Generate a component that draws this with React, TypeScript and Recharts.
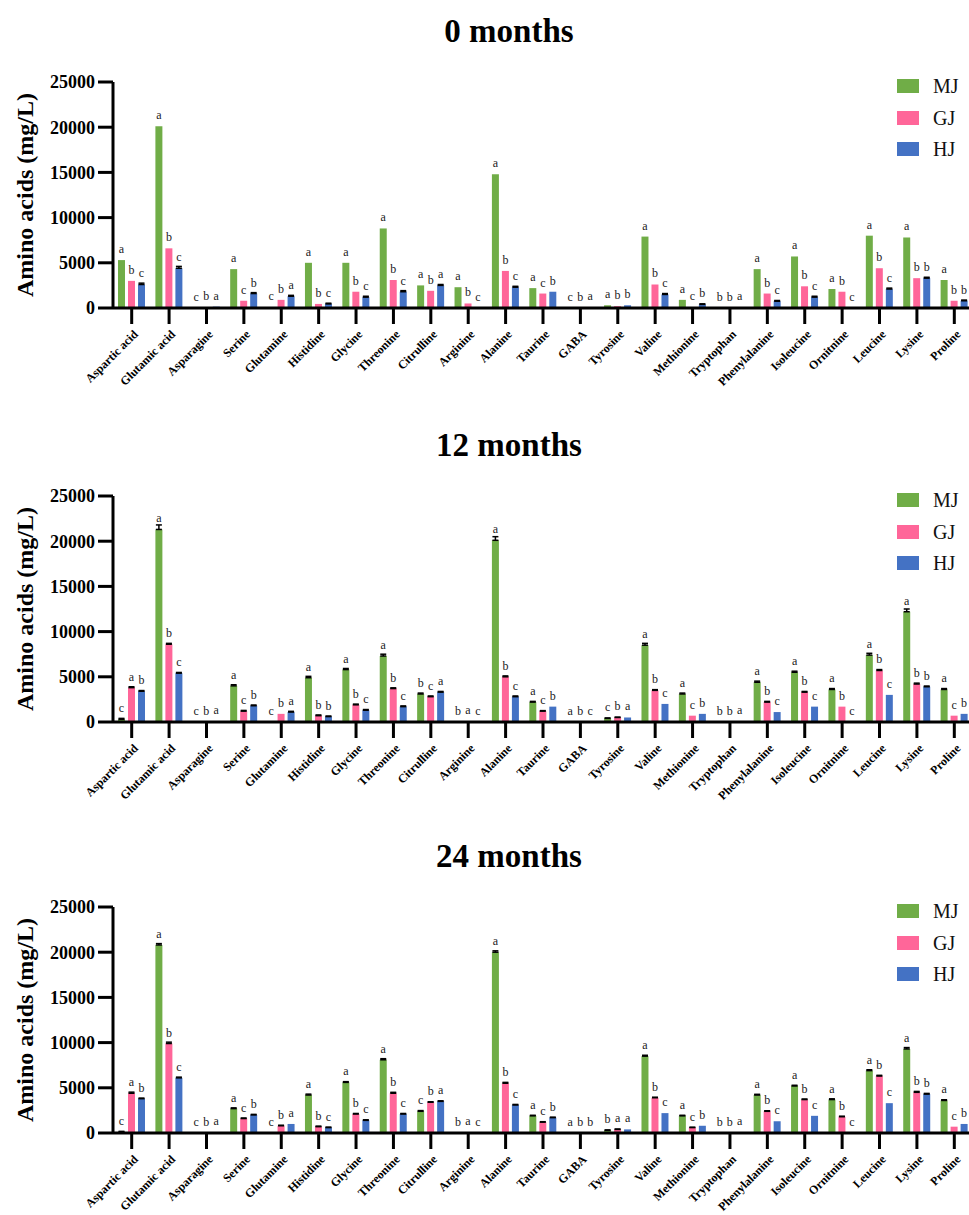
import React from "react";
import { BarChart, Bar, XAxis, YAxis, ErrorBar, LabelList } from "recharts";

const categories = [
  "Aspartic acid", "Glutamic acid", "Asparagine", "Serine", "Glutamine",
  "Histidine", "Glycine", "Threonine", "Citrulline", "Arginine", "Alanine",
  "Taurine", "GABA", "Tyrosine", "Valine", "Methionine", "Tryptophan",
  "Phenylalanine", "Isoleucine", "Ornitnine", "Leucine", "Lysine", "Proline",
];
const groups = ["MJ", "GJ", "HJ"];
const colors = ["#70AD47", "#FF6699", "#4472C4"];
const yTicks = [0, 5000, 10000, 15000, 20000, 25000];

// 0 months
const mj0 = [5300, 20100, 40, 4300, 100, 5000, 5000, 8800, 2500, 2300, 14800, 2200, 30, 300, 7900, 900, 30, 4300, 5700, 2100, 8000, 7800, 3100];
const gj0 = [3000, 6600, 60, 800, 900, 450, 1800, 3100, 1900, 500, 4100, 1600, 50, 200, 2600, 60, 30, 1600, 2400, 1800, 4400, 3300, 800];
const hj0 = [2600, 4400, 150, 1600, 1300, 450, 1200, 1800, 2500, 30, 2300, 1800, 70, 300, 1500, 400, 60, 750, 1200, 30, 2100, 3300, 800];
const mj0Err = [0, 0, 0, 0, 0, 0, 0, 0, 0, 0, 0, 0, 0, 0, 0, 0, 0, 0, 0, 0, 0, 0, 0];
const gj0Err = [0, 0, 0, 0, 0, 0, 0, 0, 0, 0, 0, 0, 0, 0, 0, 0, 0, 0, 0, 0, 0, 0, 0];
const hj0Err = [150, 200, 0, 100, 100, 80, 100, 120, 100, 0, 100, 0, 0, 0, 100, 60, 0, 80, 100, 0, 100, 100, 80];
const mj0Sig = ["a", "a", "c", "a", "c", "a", "a", "a", "a", "a", "a", "a", "c", "a", "a", "a", "b", "a", "a", "a", "a", "a", "a"];
const gj0Sig = ["b", "b", "b", "c", "b", "b", "b", "b", "b", "b", "b", "c", "b", "b", "b", "c", "b", "b", "b", "b", "b", "b", "b"];
const hj0Sig = ["c", "c", "a", "b", "a", "c", "c", "c", "a", "c", "c", "b", "a", "b", "c", "b", "a", "c", "c", "c", "c", "b", "b"];

// 12 months
const mj12 = [300, 21300, 30, 4000, 30, 4900, 5800, 7300, 3100, 40, 20100, 2200, 50, 400, 8500, 3100, 30, 4400, 5500, 3600, 7400, 12200, 3600];
const gj12 = [3800, 8600, 40, 1200, 900, 700, 1900, 3700, 2800, 60, 5000, 1200, 40, 500, 3500, 700, 30, 2200, 3300, 1700, 5700, 4200, 700];
const hj12 = [3400, 5400, 60, 1800, 1100, 600, 1300, 1700, 3300, 10, 2800, 1700, 20, 500, 2000, 900, 80, 1100, 1700, 20, 3000, 3900, 900];
const mj12Err = [100, 500, 0, 120, 0, 150, 120, 200, 100, 0, 400, 80, 0, 50, 200, 100, 0, 120, 120, 100, 200, 300, 100];
const gj12Err = [100, 100, 0, 80, 0, 80, 80, 80, 80, 0, 100, 60, 0, 40, 80, 0, 0, 80, 80, 0, 100, 100, 0];
const hj12Err = [80, 80, 0, 80, 80, 60, 80, 80, 80, 0, 80, 0, 0, 0, 0, 0, 0, 0, 0, 0, 0, 80, 0];
const mj12Sig = ["c", "a", "c", "a", "c", "a", "a", "a", "b", "b", "a", "a", "a", "c", "a", "a", "b", "a", "a", "a", "a", "a", "a"];
const gj12Sig = ["a", "b", "b", "c", "b", "b", "b", "b", "c", "a", "b", "c", "b", "b", "b", "c", "b", "b", "b", "b", "b", "b", "c"];
const hj12Sig = ["b", "c", "a", "b", "a", "b", "c", "c", "a", "c", "c", "b", "c", "a", "c", "b", "a", "c", "c", "c", "c", "b", "b"];

// 24 months
const mj24 = [100, 20800, 30, 2700, 30, 4200, 5600, 8100, 2400, 40, 20000, 1900, 50, 300, 8500, 1900, 30, 4200, 5200, 3700, 6900, 9300, 3600];
const gj24 = [4400, 9900, 40, 1600, 800, 700, 2100, 4400, 3400, 60, 5500, 1200, 30, 400, 3900, 600, 30, 2400, 3700, 1800, 6300, 4500, 700];
const hj24 = [3800, 6100, 60, 2000, 1000, 600, 1400, 2100, 3500, 10, 3100, 1700, 30, 400, 2200, 800, 80, 1300, 1900, 20, 3300, 4300, 1000];
const mj24Err = [80, 150, 0, 80, 0, 100, 80, 120, 80, 0, 150, 60, 0, 40, 100, 60, 0, 80, 80, 80, 100, 150, 80];
const gj24Err = [120, 150, 0, 60, 60, 60, 60, 100, 60, 0, 100, 50, 0, 40, 60, 40, 0, 60, 60, 60, 80, 100, 0];
const hj24Err = [60, 80, 0, 60, 0, 50, 60, 60, 60, 0, 60, 50, 0, 0, 0, 0, 0, 0, 0, 0, 0, 80, 0];
const mj24Sig = ["c", "a", "c", "a", "c", "a", "a", "a", "c", "b", "a", "a", "a", "b", "a", "a", "b", "a", "a", "a", "a", "a", "a"];
const gj24Sig = ["a", "b", "b", "c", "b", "b", "b", "b", "b", "a", "b", "c", "b", "a", "b", "c", "b", "b", "b", "b", "b", "b", "c"];
const hj24Sig = ["b", "c", "a", "b", "a", "c", "c", "c", "a", "c", "c", "b", "b", "a", "c", "b", "a", "c", "c", "c", "c", "b", "b"];

const serif = "Liberation Serif, DejaVu Serif, Noto Serif, Times New Roman, Times, serif";

const panels = [
  { title: "0 months", top: 0, vals: [mj0, gj0, hj0], errs: [mj0Err, gj0Err, hj0Err], sigs: [mj0Sig, gj0Sig, hj0Sig] },
  { title: "12 months", top: 414, vals: [mj12, gj12, hj12], errs: [mj12Err, gj12Err, hj12Err], sigs: [mj12Sig, gj12Sig, hj12Sig] },
  { title: "24 months", top: 825, vals: [mj24, gj24, hj24], errs: [mj24Err, gj24Err, hj24Err], sigs: [mj24Sig, gj24Sig, hj24Sig] },
];

const XTick = (props: any) => {
  const { x, y, payload } = props;
  const tx = x + 7;
  const ty = y + 9;
  return (
    <text
      x={tx}
      y={ty}
      transform={`rotate(-45 ${tx} ${ty})`}
      textAnchor="end"
      style={{ fontFamily: serif, fontSize: 12, fontWeight: "bold" }}
      fill="#000"
    >
      {payload.value}
    </text>
  );
};

const sigLabel = (props: any) => {
  const { x, y, width, value } = props;
  return (
    <text
      x={x + width / 2}
      y={y - 7}
      textAnchor="middle"
      style={{ fontFamily: serif, fontSize: 12 }}
      fill="#222"
    >
      {value}
    </text>
  );
};

function Panel({ p }: { p: (typeof panels)[number] }) {
  const rows = categories.map((name, i) => {
    const row: any = { name };
    groups.forEach((_, k) => {
      row[`v${k}`] = p.vals[k][i];
      row[`e${k}`] = p.errs[k][i] > 0 ? [0, p.errs[k][i]] : null;
      row[`s${k}`] = p.sigs[k][i];
    });
    return row;
  });

  return (
    <div style={{ position: "absolute", left: 0, top: p.top, width: 985, height: 412, fontFamily: serif }}>
      <div
        style={{
          position: "absolute", left: 309, top: 12, width: 400, height: 38,
          lineHeight: "38px", textAlign: "center", fontSize: 33, fontWeight: "bold", zIndex: 2,
        }}
      >
        {p.title}
      </div>
      <div
        style={{
          position: "absolute", left: 25, top: 195, transform: "translate(-50%, -50%) rotate(-90deg)",
          whiteSpace: "nowrap", fontSize: 24, fontWeight: "bold", zIndex: 2,
        }}
      >
        Amino acids (mg/L)
      </div>
      {groups.map((g, k) => (
        <div key={g} style={{ position: "absolute", left: 897, top: 79 + k * 31.5, zIndex: 2, height: 14 }}>
          <div style={{ position: "absolute", left: 0, top: 0, width: 22, height: 14, background: colors[k] }} />
          <div
            style={{
              position: "absolute", left: 36, top: -6, lineHeight: "26px", fontSize: 20,
              whiteSpace: "nowrap", color: "#111",
            }}
          >
            {g}
          </div>
        </div>
      ))}
      <BarChart
        width={985}
        height={412}
        data={rows}
        margin={{ top: 82, right: 12, left: 0, bottom: 0 }}
        barGap={3}
        style={{ fontFamily: serif }}
      >
        <XAxis
          dataKey="name"
          interval={0}
          height={104}
          tickSize={16}
          tick={<XTick />}
          axisLine={{ stroke: "#000", strokeWidth: 3 }}
          tickLine={{ stroke: "#000", strokeWidth: 3 }}
        />
        <YAxis
          domain={[0, 25000]}
          ticks={yTicks}
          interval={0}
          width={113}
          tickSize={15}
          tickMargin={3}
          tick={{ fontSize: 18, fontWeight: "bold", fill: "#000", style: { fontFamily: serif } }}
          axisLine={{ stroke: "#000", strokeWidth: 3 }}
          tickLine={{ stroke: "#000", strokeWidth: 3 }}
        />
        {groups.map((g, k) => (
          <Bar key={g} dataKey={`v${k}`} name={g} fill={colors[k]} barSize={7} isAnimationActive={false}>
            <ErrorBar dataKey={`e${k}`} width={3} stroke="#000" strokeWidth={1.5} direction="y" />
            <LabelList dataKey={`s${k}`} content={sigLabel} />
          </Bar>
        ))}
      </BarChart>
    </div>
  );
}

export default function App() {
  return (
    <div
      style={{
        position: "absolute", left: 0, top: 0, width: 969, height: 1215,
        overflow: "hidden", background: "#fff",
      }}
    >
      {panels.map((p) => (
        <Panel key={p.title} p={p} />
      ))}
    </div>
  );
}
